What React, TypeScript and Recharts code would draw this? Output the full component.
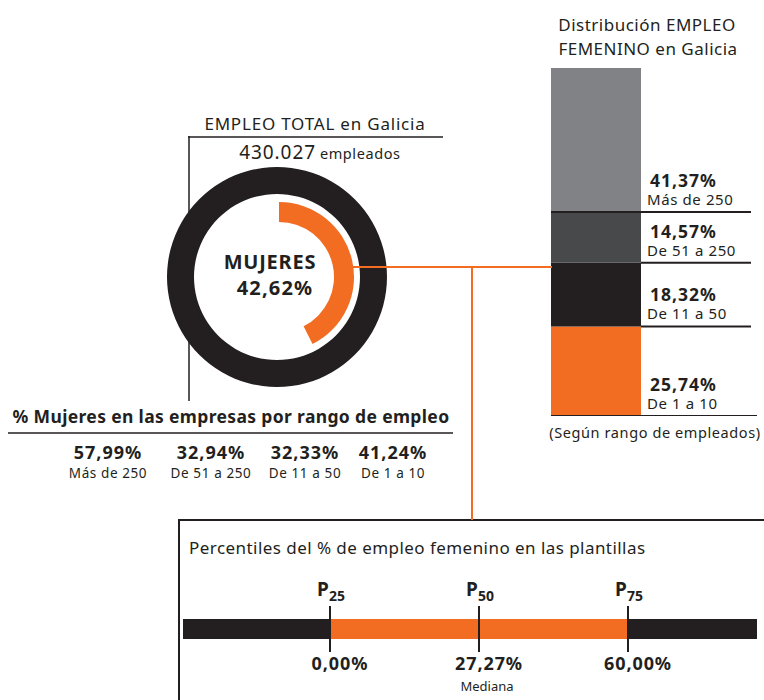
import React from 'react';
import { PieChart, Pie, Cell, BarChart, Bar, XAxis, YAxis, LabelList, ReferenceLine } from 'recharts';

const INK = '#231f20';
const ORANGE = '#f26c22';
const GRAY = '#808285';
const DARKGRAY = '#48494b';
const FONT = '"Noto Sans", "Open Sans", sans-serif';

// ---- data ----
const totalEmployees = '430.027';
const womenShare = 42.62;

const distKeys = ['r1_10', 'r11_50', 'r51_250', 'r250'];
const distRanges = ['De 1 a 10', 'De 11 a 50', 'De 51 a 250', 'Más de 250'];
const distValues = [25.74, 18.32, 14.57, 41.37];
const distColors = [ORANGE, INK, DARKGRAY, GRAY];

const tableRanges = ['Más de 250', 'De 51 a 250', 'De 11 a 50', 'De 1 a 10'];
const tableValues = [57.99, 32.94, 32.33, 41.24];

const percentileNames = ['25', '50', '75'];
const percentileRanks = [25, 50, 75];
const percentileValues = [0.0, 27.27, 60.0];
const quartileKeys = ['q1', 'q2', 'q3', 'q4'];
const quartileShares = [25, 25, 25, 25];
const quartileColors = [INK, ORANGE, ORANGE, INK];

const fmt = (v: number) => v.toFixed(2).replace('.', ',') + '%';

const donutTotal = [{ name: 'Total', value: 100 }];
const donutWomen = [
  { name: 'Mujeres', value: womenShare },
  { name: 'Hombres', value: 100 - womenShare },
];

const distRow: any = { name: 'Galicia' };
distKeys.forEach((k, i) => (distRow[k] = distValues[i]));

const quartileRow: any = { name: 'plantillas' };
quartileKeys.forEach((k, i) => (quartileRow[k] = quartileShares[i]));

const tableColX = [108, 211, 305, 393];

function SegLabel(props: any) {
  const vb = props.viewBox && props.viewBox.width !== undefined ? props.viewBox : props;
  const { x, y, width, height } = vb;
  const i = props.idx;
  const bottom = y + height;
  const lineStart = i === 0 || i === 3 ? x : x + width;
  const lineEnd = x + width + (i === 0 ? 116 : 110);
  return (
    <g>
      <line x1={lineStart} x2={lineEnd} y1={bottom} y2={bottom} stroke={INK} strokeWidth={2} />
      <text x={x + width + 9} y={bottom - 25} fontFamily={FONT} fontWeight={700} fontSize={17.5} letterSpacing={1} fill={INK}>
        {fmt(distValues[i])}
      </text>
      <text x={x + width + 6} y={bottom - 7} fontFamily={FONT} fontSize={15} letterSpacing={0.6} fill={INK}>
        {distRanges[i]}
      </text>
    </g>
  );
}

function PLabel(props: any) {
  const vb = props.viewBox || {};
  const { x, y, height } = vb;
  const i = props.idx;
  return (
    <g fontFamily={FONT} fill={INK}>
      <text x={x + 1} y={y - 10} textAnchor="middle" fontWeight={700} fontSize={19} fill={INK}>
        <tspan>P</tspan>
        <tspan dy={5} fontSize={14}>{percentileNames[i]}</tspan>
      </text>
      <text x={x + 10} y={y + height + 18} textAnchor="middle" fontWeight={700} fontSize={18} letterSpacing={0.9} fill={INK}>
        {fmt(percentileValues[i])}
      </text>
      {i === 1 && (
        <text x={x + 8} y={y + height + 39} textAnchor="middle" fontSize={13} fill={INK}>
          Mediana
        </text>
      )}
    </g>
  );
}

export default function App() {
  return (
    <div style={{ position: 'absolute', left: 0, top: 0, width: 764, height: 700, background: '#fff', overflow: 'hidden', fontFamily: FONT }}>
      {/* background decorations and text */}
      <svg width={764} height={700} style={{ position: 'absolute', left: 0, top: 0 }}>
        <g fontFamily={FONT} fill={INK}>
          <text x={647} y={31} textAnchor="middle" fontSize={17} letterSpacing={0.5}>Distribución EMPLEO</text>
          <text x={648} y={55} textAnchor="middle" fontSize={17} letterSpacing={0.5}>FEMENINO en Galicia</text>

          <text x={315} y={130} textAnchor="middle" fontSize={17} letterSpacing={0.8}>EMPLEO TOTAL en Galicia</text>
          <text x={320} y={159} textAnchor="middle">
            <tspan fontSize={19} letterSpacing={0.9}>{totalEmployees}</tspan>
            <tspan fontSize={14.5} dx={4} letterSpacing={0.6}>empleados</tspan>
          </text>
          <line x1={189} x2={189} y1={136} y2={401} stroke={INK} strokeWidth={1.5} />
          <line x1={188} x2={443} y1={137} y2={137} stroke={INK} strokeWidth={1.5} />

          <text x={231} y={423} textAnchor="middle" fontSize={17.5} fontWeight={700} letterSpacing={0.35}>% Mujeres en las empresas por rango de empleo</text>
          <line x1={8} x2={453} y1={433} y2={433} stroke={INK} strokeWidth={1.5} />
          {tableValues.map((v, i) => (
            <g key={i}>
              <text x={tableColX[i]} y={459} textAnchor="middle" fontSize={18} fontWeight={700} letterSpacing={1}>{fmt(v)}</text>
              <text x={tableColX[i]} y={478} textAnchor="middle" fontSize={13.5} letterSpacing={0.6}>{tableRanges[i]}</text>
            </g>
          ))}

          <text x={655} y={438} textAnchor="middle" fontSize={14.5} letterSpacing={0.6}>(Según rango de empleados)</text>

          <rect x={179} y={520} width={620} height={220} fill="#fff" stroke={INK} strokeWidth={2} />
          <text x={189} y={554} fontSize={17} letterSpacing={0.45}>Percentiles del % de empleo femenino en las plantillas</text>
        </g>
      </svg>

      {/* donut */}
      <div style={{ position: 'absolute', left: 157, top: 157 }}>
        <PieChart width={240} height={240} margin={{ top: 0, right: 0, bottom: 0, left: 0 }}>
          <Pie data={donutTotal} dataKey="value" cx={120} cy={120} innerRadius={83} outerRadius={110}
            startAngle={90} endAngle={-270} stroke="none" fill={INK} isAnimationActive={false} />
          <Pie data={donutWomen} dataKey="value" cx={122} cy={120} innerRadius={55} outerRadius={75}
            startAngle={90} endAngle={-270} stroke="none" isAnimationActive={false}>
            <Cell fill={ORANGE} />
            <Cell fill="rgba(0,0,0,0)" />
          </Pie>
        </PieChart>
      </div>

      {/* stacked distribution bar */}
      <div style={{ position: 'absolute', left: 551, top: 68 }}>
        <BarChart width={213} height={348} data={[distRow]} margin={{ top: 0, right: 123, bottom: 0, left: 0 }}
          barCategoryGap={0}>
          <XAxis dataKey="name" hide />
          <YAxis hide domain={[0, 100]} />
          {distKeys.map((k, i) => (
            <Bar key={k} dataKey={k} stackId="d" fill={distColors[i]} isAnimationActive={false}>
              <LabelList dataKey={k} content={(p: any) => <SegLabel {...p} idx={i} />} />
            </Bar>
          ))}
        </BarChart>
      </div>

      {/* percentile bar (clipped to the visible strip) */}
      <div style={{ position: 'absolute', left: 183, top: 570, width: 574, height: 130, overflow: 'hidden' }}>
        <div style={{ position: 'absolute', left: -2, top: 0 }}>
          <BarChart layout="vertical" width={596} height={130} data={[quartileRow]}
            margin={{ top: 36, right: 0, bottom: 48, left: 0 }} barSize={20}>
            <XAxis type="number" domain={[0, 100]} hide />
            <YAxis type="category" dataKey="name" hide />
            {quartileKeys.map((k, i) => (
              <Bar key={k} dataKey={k} stackId="p" fill={quartileColors[i]} isAnimationActive={false} />
            ))}
            {percentileRanks.map((r, i) => (
              <ReferenceLine key={r} x={r} stroke={INK} strokeWidth={2}
                label={{ content: (p: any) => <PLabel {...p} idx={i} /> }} />
            ))}
          </BarChart>
        </div>
      </div>

      {/* foreground */}
      <svg width={764} height={700} style={{ position: 'absolute', left: 0, top: 0, pointerEvents: 'none' }}>
        <g fontFamily={FONT} fill={INK}>
          <text x={270} y={269} textAnchor="middle" fontSize={20} fontWeight={700} letterSpacing={0.8}>MUJERES</text>
          <text x={275} y={295} textAnchor="middle" fontSize={20} fontWeight={700} letterSpacing={1.2}>{fmt(womenShare)}</text>
        </g>
        <line x1={353} x2={552} y1={267} y2={267} stroke={ORANGE} strokeWidth={2} />
        <line x1={472} x2={472} y1={267} y2={520} stroke={ORANGE} strokeWidth={2} />
      </svg>
    </div>
  );
}
